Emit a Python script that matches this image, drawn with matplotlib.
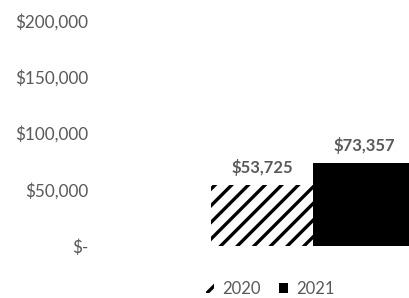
import matplotlib
matplotlib.use("Agg")
from matplotlib import pyplot as plt
from matplotlib.patches import Patch

# Chart data
years = ["2020", "2021"]
values = [53725, 73357]
y_ticks = [0, 50000, 100000, 150000, 200000]
y_tick_labels = ["$-", "$50,000", "$100,000", "$150,000", "$200,000"]

plt.rcParams['font.family'] = ['Lato', 'DejaVu Sans']
plt.rcParams['hatch.linewidth'] = 2.4

gray = '#595959'

fig = plt.figure(figsize=(4.10, 2.98), dpi=100)
ax = fig.add_axes([0.232, 0.1275, 0.768, 0.855])

positions = list(range(len(years)))
hatches = ['//', None]
for pos, val, h in zip(positions, values, hatches):
    if h:
        ax.bar(pos, val, width=1.0, color='white', edgecolor='black', hatch=h, linewidth=0)
    else:
        ax.bar(pos, val, width=1.0, color='black', linewidth=0)
    ax.text(pos, val + 8000, "${:,}".format(val), ha='center', va='bottom',
            fontsize=12, fontweight='bold', color=gray)

ax.set_xlim(-1.637, 1.451)
ax.set_ylim(-12400, 213300)
ax.set_yticks(y_ticks)
ax.set_yticklabels(y_tick_labels, fontsize=12.3, color=gray)
ax.tick_params(axis='y', length=0, pad=5)
ax.set_xticks([])
for s in ax.spines.values():
    s.set_visible(False)

handles = [Patch(facecolor='white', edgecolor='black', hatch='//', linewidth=0, label='2020'),
           Patch(facecolor='black', linewidth=0, label='2021')]
leg = fig.legend(handles=handles, loc='center', bbox_to_anchor=(270 / 410, 1 - 289 / 298),
                 ncol=2, frameon=False, fontsize=12, handlelength=0.5, handleheight=0.6,
                 handletextpad=0.5, columnspacing=1.1, borderpad=0)
for t in leg.get_texts():
    t.set_color(gray)

fig.savefig("out.png", dpi=100)
